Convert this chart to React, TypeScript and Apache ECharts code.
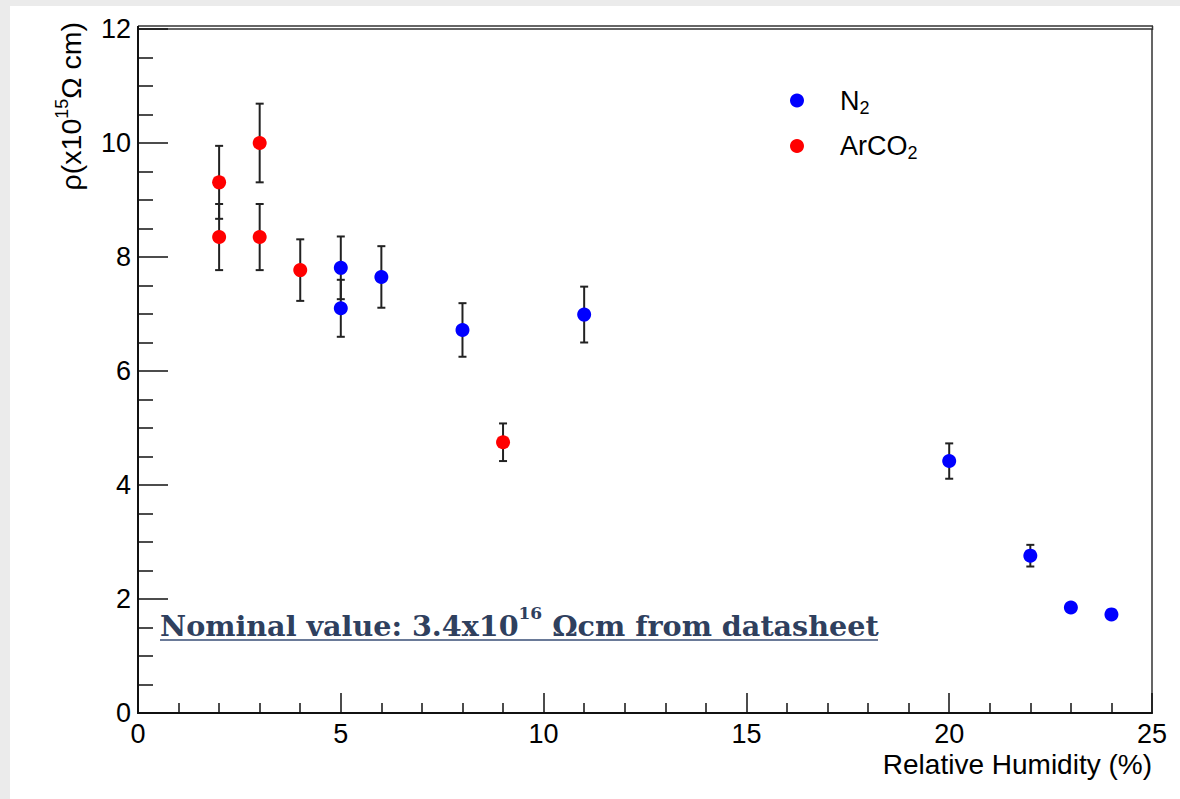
import React, { useEffect, useRef } from "react";
import * as echarts from "echarts";

const xTickLabels = ["0", "5", "10", "15", "20", "25"];
const yTickLabels = ["0", "2", "4", "6", "8", "10", "12"];

const n2Humidity = [5, 5, 6, 8, 11, 20, 22, 23, 24];
const n2Rho = [7.81, 7.1, 7.65, 6.72, 6.99, 4.42, 2.76, 1.85, 1.73];
const n2Err = [0.55, 0.5, 0.54, 0.47, 0.49, 0.31, 0.19, 0.07, 0.04];

const arHumidity = [2, 2, 3, 3, 4, 9];
const arRho = [9.31, 8.35, 10.0, 8.35, 7.77, 4.75];
const arErr = [0.64, 0.58, 0.69, 0.58, 0.54, 0.33];

const seriesNames = ["N2", "ArCO2"];
const annotation = "Nominal value: 3.4x10";

const SANS = "Liberation Sans, Arial, Helvetica, sans-serif";
const SERIF = "DejaVu Serif, Liberation Serif, serif";

function errRows(xs: number[], ys: number[], es: number[]) {
  return xs.map((x, i) => [x, ys[i] - es[i], ys[i] + es[i]]);
}

function renderErr(params: any, api: any) {
  const x = api.value(0);
  const lo = api.coord([x, api.value(1)]);
  const hi = api.coord([x, api.value(2)]);
  const cw = 4;
  const st = { stroke: "#222", lineWidth: 2 };
  return {
    type: "group",
    children: [
      { type: "line", shape: { x1: hi[0], y1: hi[1], x2: lo[0], y2: lo[1] }, style: st },
      { type: "line", shape: { x1: hi[0] - cw, y1: hi[1], x2: hi[0] + cw, y2: hi[1] }, style: st },
      { type: "line", shape: { x1: lo[0] - cw, y1: lo[1], x2: lo[0] + cw, y2: lo[1] }, style: st },
    ],
  };
}

export default function App() {
  const ref = useRef<HTMLDivElement>(null);
  useEffect(() => {
    document.body.style.margin = "0";
    const chart = echarts.init(ref.current!, undefined, { renderer: "svg" });
    const option: any = {
      animation: false,
      backgroundColor: "#ebebeb",
      grid: {
        left: 138,
        right: 28,
        top: 29,
        bottom: 86,
        show: true,
        backgroundColor: "#ffffff",
        borderColor: "#333",
        borderWidth: 1.5,
      },
      legend: {
        orient: "vertical",
        left: 790,
        top: 87,
        padding: 0,
        itemWidth: 14,
        itemHeight: 14,
        itemGap: 16,
        icon: "circle",
        data: seriesNames,
        formatter: (name: string) =>
          name === "N2" ? "{p|}{a|N}{b|2}" : "{p|}{a|ArCO}{b|2}",
        textStyle: {
          color: "#000",
          fontFamily: SANS,
          rich: {
            p: { width: 31, lineHeight: 32 },
            a: { fontSize: 27, fontFamily: SANS, color: "#000", lineHeight: 32, verticalAlign: "middle" },
            b: { fontSize: 18, fontFamily: SANS, color: "#000", lineHeight: 14, verticalAlign: "bottom" },
          },
        },
      },
      xAxis: {
        type: "value",
        min: 0,
        max: 25,
        interval: 5,
        name: "Relative Humidity (%)",
        nameLocation: "end",
        nameGap: 0,
        nameTextStyle: {
          fontFamily: SANS,
          fontSize: 28,
          color: "#000",
          align: "right",
          verticalAlign: "top",
          padding: [37, 0, 0, 0],
        },
        axisLine: { show: true, lineStyle: { color: "#111", width: 2 } },
        axisTick: { show: true, inside: true, length: 20, lineStyle: { color: "#111", width: 1.5 } },
        minorTick: { show: true, splitNumber: 5, length: 10, lineStyle: { color: "#111", width: 1.5 } },
        splitLine: { show: false },
        axisLabel: {
          margin: 7,
          fontFamily: SANS,
          fontSize: 27,
          color: "#000",
          formatter: (v: number) => xTickLabels[Math.round(v / 5)] ?? "",
        },
      },
      yAxis: {
        type: "value",
        min: 0,
        max: 12,
        interval: 2,
        axisLine: { show: true, lineStyle: { color: "#111", width: 2 } },
        axisTick: { show: true, inside: true, length: 30, lineStyle: { color: "#111", width: 1.5 } },
        minorTick: { show: true, splitNumber: 4, length: 15, lineStyle: { color: "#111", width: 1.5 } },
        splitLine: { show: false },
        axisLabel: {
          margin: 7,
          fontFamily: SANS,
          fontSize: 27,
          color: "#000",
          formatter: (v: number) => yTickLabels[Math.round(v / 2)] ?? "",
        },
      },
      graphic: [
        {
          type: "rect",
          shape: { x: 10, y: 6, width: 1180, height: 799 },
          style: { fill: "#ffffff" },
          z: -10,
          silent: true,
        },
        {
          type: "line",
          shape: { x1: 138, y1: 26, x2: 1153, y2: 26 },
          style: { stroke: "#333", lineWidth: 1.5 },
        },
        {
          type: "line",
          shape: { x1: 138, y1: 26, x2: 138, y2: 30 },
          style: { stroke: "#111", lineWidth: 2 },
        },
        {
          type: "line",
          shape: { x1: 1152.5, y1: 26, x2: 1152.5, y2: 30 },
          style: { stroke: "#333", lineWidth: 1.5 },
        },
        {
          type: "text",
          x: 69,
          y: 22,
          rotation: Math.PI / 2,
          style: {
            text: "{a|ρ(x10}{s|15}{a|Ω cm)}",
            align: "right",
            verticalAlign: "middle",
            rich: {
              a: { fontFamily: SANS, fontSize: 28.5, fill: "#000", lineHeight: 32, verticalAlign: "bottom" },
              s: { fontFamily: SANS, fontSize: 18, fill: "#000", lineHeight: 18, verticalAlign: "top" },
            },
          },
        },
        {
          type: "text",
          x: 160,
          y: 622,
          style: {
            text: "{a|" + annotation + "}{s|16}{a| Ωcm from datasheet}",
            align: "left",
            verticalAlign: "middle",
            rich: {
              a: { fontFamily: SERIF, fontWeight: "bold", fontSize: 28.6, fill: "#2f405e", lineHeight: 36, verticalAlign: "bottom" },
              s: { fontFamily: SERIF, fontWeight: "bold", fontSize: 17, fill: "#2f405e", lineHeight: 24, verticalAlign: "top" },
            },
          },
        },
        {
          type: "line",
          shape: { x1: 160, y1: 640, x2: 878, y2: 640 },
          style: { stroke: "#6a7a98", lineWidth: 2 },
        },
      ],
      series: [
        {
          name: "N2err",
          type: "custom",
          renderItem: renderErr,
          encode: { x: 0, y: [1, 2] },
          data: errRows(n2Humidity, n2Rho, n2Err),
          z: 2,
          silent: true,
        },
        {
          name: "ArCO2err",
          type: "custom",
          renderItem: renderErr,
          encode: { x: 0, y: [1, 2] },
          data: errRows(arHumidity, arRho, arErr),
          z: 2,
          silent: true,
        },
        {
          name: "N2",
          type: "scatter",
          symbol: "circle",
          symbolSize: 14,
          itemStyle: { color: "#0000ff", opacity: 1 },
          data: n2Humidity.map((x, i) => [x, n2Rho[i]]),
          z: 3,
        },
        {
          name: "ArCO2",
          type: "scatter",
          symbol: "circle",
          symbolSize: 14,
          itemStyle: { color: "#ff0000", opacity: 1 },
          data: arHumidity.map((x, i) => [x, arRho[i]]),
          z: 3,
        },
      ],
    };
    chart.setOption(option);
    return () => chart.dispose();
  }, []);
  return <div ref={ref} style={{ width: 1180, height: 799 }} />;
}
